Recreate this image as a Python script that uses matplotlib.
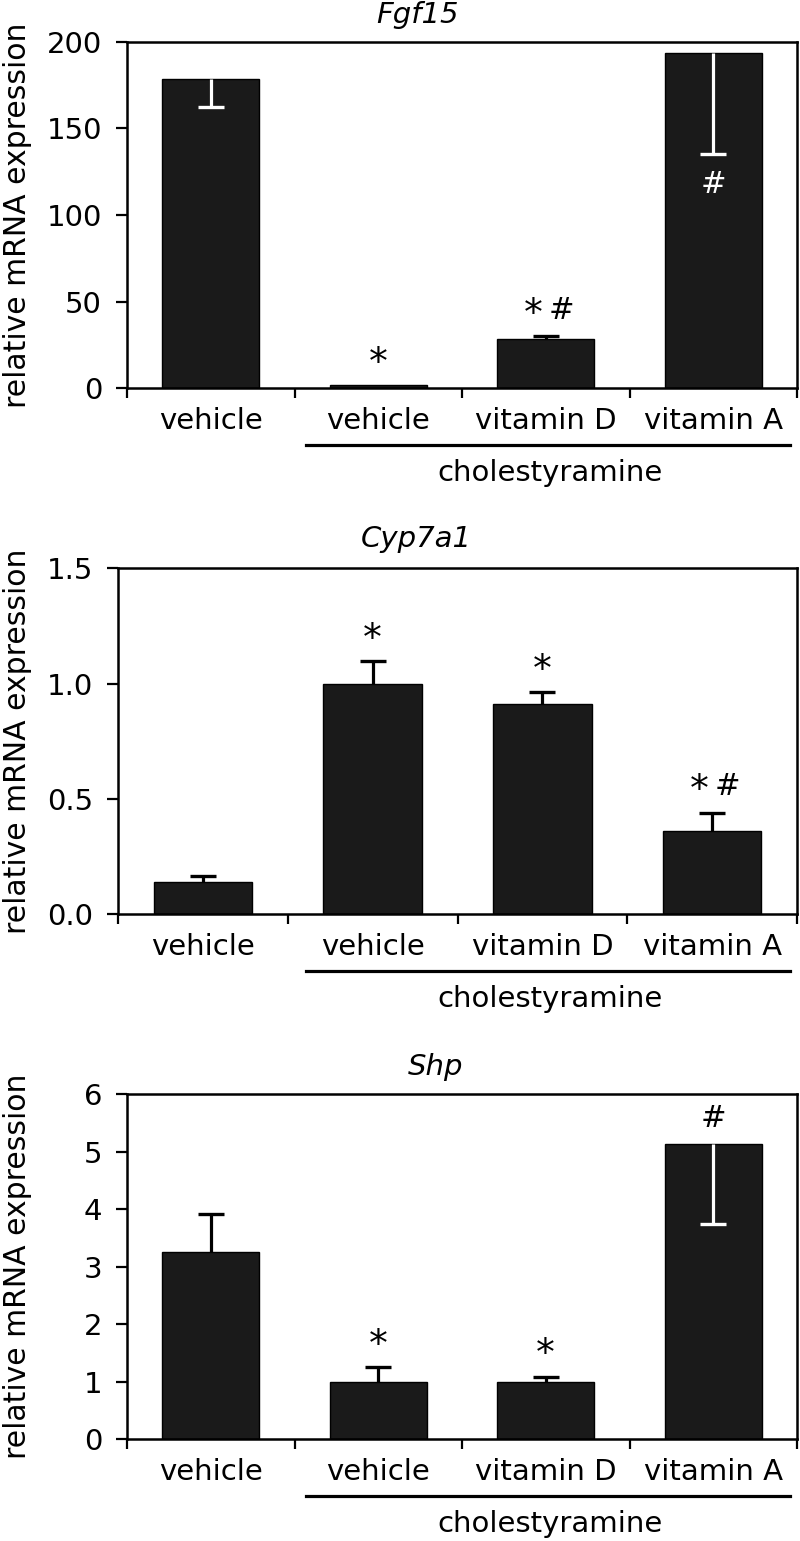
import matplotlib
matplotlib.use('Agg')
import matplotlib.pyplot as plt
from matplotlib.lines import Line2D
from matplotlib.ticker import FormatStrFormatter
import numpy as np

plt.rcParams['font.family'] = ['DejaVu Sans']

# ---------------- data ----------------
categories = ['vehicle', 'vehicle', 'vitamin D', 'vitamin A']
group_label = 'cholestyramine'
ylabel = 'relative mRNA expression'

genes = ['Fgf15', 'Cyp7a1', 'Shp']

fgf15_mean = [178.3, 1.8, 28.3, 193.3]
fgf15_err = [15.8, 0.0, 1.9, 58.3]
fgf15_err_dir = ['down', 'up', 'up', 'down']
fgf15_marks = ['', '*', '* #', '#']
fgf15_yticks = [0, 50, 100, 150, 200]

cyp7a1_mean = [0.138, 1.0, 0.91, 0.36]
cyp7a1_err = [0.028, 0.099, 0.052, 0.08]
cyp7a1_err_dir = ['up', 'up', 'up', 'up']
cyp7a1_marks = ['', '*', '*', '* #']
cyp7a1_yticks = [0.0, 0.5, 1.0, 1.5]

shp_mean = [3.25, 1.0, 1.0, 5.13]
shp_err = [0.66, 0.25, 0.09, 1.39]
shp_err_dir = ['up', 'up', 'up', 'down']
shp_marks = ['', '*', '*', '#']
shp_yticks = [0, 1, 2, 3, 4, 5, 6]

panels = [
    (fgf15_mean, fgf15_err, fgf15_err_dir, fgf15_marks, fgf15_yticks, '%d'),
    (cyp7a1_mean, cyp7a1_err, cyp7a1_err_dir, cyp7a1_marks, cyp7a1_yticks, '%.1f'),
    (shp_mean, shp_err, shp_err_dir, shp_marks, shp_yticks, '%d'),
]

# ---------------- layout ----------------
W, H = 800, 1541
axes_px = [(127, 41.7, 797, 388.3), (118, 568.3, 797, 914.0), (127, 1094.0, 797, 1439.3)]
title_x = [0.434, 0.439, 0.461]
title_pad = [13.5, 15.5, 14]

mark_size = {'*': 27, '#': 22}
mark_lift = {'*': 8, '#': 12.5}       # baseline offset (pt) above the bar/error top
pair_shift = [-9, 11]                 # horizontal offsets (pt) for two-symbol marks

fig = plt.figure(figsize=(W / 100, H / 100), dpi=100)

bar_color = '#1a1a1a'
for k, (gene, (mean, err, edir, marks, yticks, fmt)) in enumerate(zip(genes, panels)):
    l, t, r, b = axes_px[k]
    ax = fig.add_axes([l / W, 1 - b / H, (r - l) / W, (b - t) / H])
    x = np.arange(len(categories))
    ymax = yticks[-1]
    ax.bar(x, mean, width=0.58, color=bar_color, edgecolor='black', linewidth=1, zorder=2)
    for i in range(len(x)):
        if err[i] <= 0:
            continue
        if edir[i] == 'up':
            end, c = mean[i] + err[i], 'black'
        else:
            end, c = mean[i] - err[i], 'white'
        ax.vlines(x[i], mean[i], end, color=c, lw=2.3, zorder=3)
        ax.plot([x[i]], [end], marker='_', ms=18.5, mew=2.4, color=c, zorder=3)
    for i, m in enumerate(marks):
        if not m:
            continue
        toks = m.split()
        shifts = [0] if len(toks) == 1 else pair_shift
        if mean[i] > 0.9 * ymax:
            low = mean[i] - (err[i] if edir[i] == 'down' else 0)
            for tok, dx in zip(toks, shifts):
                ax.annotate(tok, (x[i], low), xytext=(dx, -11), textcoords='offset points',
                            ha='center', va='top', color='white',
                            fontsize=mark_size[tok], zorder=4)
        else:
            top = mean[i] + (err[i] if edir[i] == 'up' else 0)
            for tok, dx in zip(toks, shifts):
                ax.annotate(tok, (x[i], top), xytext=(dx, mark_lift[tok]),
                            textcoords='offset points', ha='center', va='baseline',
                            color='black', fontsize=mark_size[tok], zorder=4)

    ax.set_xlim(-0.5, len(x) - 0.5)
    ax.set_ylim(0, ymax)
    ax.set_yticks(yticks)
    ax.yaxis.set_major_formatter(FormatStrFormatter(fmt))
    ax.set_xticks(np.arange(len(x) + 1) - 0.5)
    ax.set_xticks(x, minor=True)
    ax.set_xticklabels(categories, minor=True)
    ax.tick_params(axis='x', which='major', direction='out', length=7.5, width=1.6,
                   labelbottom=False)
    ax.tick_params(axis='x', which='minor', length=0, pad=13.5, labelsize=21)
    ax.tick_params(axis='y', direction='out', length=8, width=1.6, pad=10, labelsize=21)
    for s in ax.spines.values():
        s.set_linewidth(1.8)
    ax.set_title(gene, fontstyle='italic', fontsize=21, x=title_x[k], pad=title_pad[k])

    # y label centred on the axes
    fig.text(18 / W, 1 - (t + b) / 2 / H, ylabel, rotation=90, ha='center', va='center',
             fontsize=21.5)
    # group underline and label
    yl = 1 - (b + 57) / H
    fig.add_artist(Line2D([306 / W, 790 / W], [yl, yl], color='black', lw=2.3))
    fig.text(550 / W, 1 - (b + 93) / H, group_label, ha='center', va='baseline', fontsize=21)

fig.savefig('out.png', dpi=100)
